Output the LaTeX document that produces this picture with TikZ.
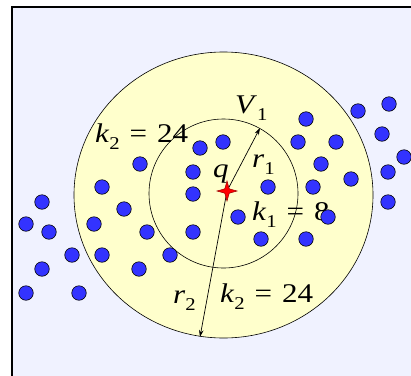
\documentclass[tikz,border=0pt]{standalone}
\usepackage{graphicx}
\usepackage{fontspec}
\setmainfont{Liberation Serif}
\usetikzlibrary{shapes.geometric,arrows.meta}
\definecolor{bgcol}{HTML}{F0F2FF}
\definecolor{halo}{HTML}{FFFFCC}
\definecolor{dotblue}{HTML}{3333FF}
\newcommand\lbl[2]{\textit{#1}\raisebox{-0.28em}{\fontsize{18}{18}\selectfont #2}}
\newcommand\eqsp{\hspace{0.32em}=\hspace{0.32em}}
\newcommand\wide[1]{\scalebox{1.15}[1]{#1}}
\tikzset{
  dotnode/.style={circle, draw=black, fill=dotblue, minimum size=14.5pt, inner sep=0pt, line width=0.6pt},
  ring/.style={draw=black, line width=0.6pt, inner sep=0pt},
  lab/.style={anchor=base west, inner sep=0pt, font=\fontsize{27}{27}\selectfont},
  radarrow/.style={line width=0.7pt, -{Stealth[length=7pt,width=4.5pt]}}
}
\begin{document}
\begin{tikzpicture}[x=1pt,y=-1pt]
\useasboundingbox (0,0) rectangle (411,375);
\clip (0,0) rectangle (411,375);
\fill[white] (0,0) rectangle (411,375);
\draw[line width=2pt, fill=bgcol] (12,7) rectangle (440,400);
\node[ring, ellipse, fill=halo, minimum width=299pt, minimum height=286pt] (outer) at (223.5,195) {};
\node[ring, circle, minimum size=149pt] (inner) at (223.5,193.5) {};
% labels
\node[lab] (v1) at (235,113) {\wide{\lbl{V}{1}}};
\node[lab] (k2a) at (95,142) {\wide{\lbl{k}{2}\eqsp24}};
\node[lab] (r1) at (252,167) {\wide{\lbl{r}{1}}};
\node[lab] (ql) at (213,177) {\wide{\textit{q}}};
\node[lab] (k1) at (252,220) {\wide{\lbl{k}{1}\eqsp8}};
\node[lab] (r2) at (173,303) {\wide{\lbl{r}{2}}};
\node[lab] (k2b) at (220,302) {\wide{\lbl{k}{2}\eqsp24}};
% dots
\foreach \x/\y [count=\i] in {389/104, 358/111, 306/119, 382/134, 298/142, 336/142, 223/142, 200/148,
  140/164, 321/164, 404/157, 193/172, 388/172, 351/179, 102/187, 193/194, 268/187, 313/187,
  388/202, 42/202, 124/209, 238/217, 328/217, 26/224, 49/232, 94/224, 147/232, 193/232,
  261/239, 306/239, 72/255, 102/255, 170/255, 42/269, 139/269, 26/293, 79/293}
  \node[dotnode] (d\i) at (\x,\y) {};
% radii
\coordinate (r1end) at (260,128);
\coordinate (r2end) at (200,337);
\coordinate (qc) at (227,191);
\draw[radarrow] (qc) -- (r1end);
\draw[radarrow] (qc) -- (r2end);
\node[star, star points=4, star point ratio=3.2, minimum size=20pt, inner sep=0pt, fill=red, draw=red!60!black, line width=0.5pt] (q) at (qc) {};
\end{tikzpicture}
\end{document}
